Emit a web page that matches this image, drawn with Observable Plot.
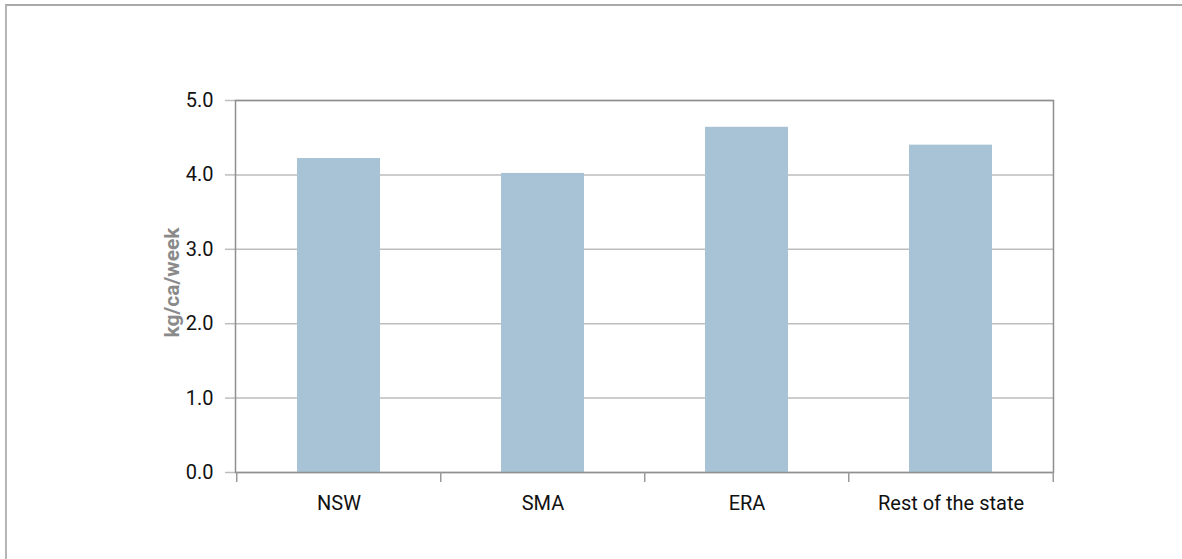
<!DOCTYPE html>
<html>
<head>
<meta charset="utf-8">
<script src="https://cdn.jsdelivr.net/npm/d3@7"></script>
<script src="https://cdn.jsdelivr.net/npm/@observablehq/plot@0.6"></script>
<style>
  html, body { margin: 0; padding: 0; background: #fff; overflow: hidden; width: 1182px; height: 559px; }
  #frame { position: absolute; left: 5px; top: 4px; width: 1300px; height: 700px;
           border-top: 2px solid #a9a9a9; border-left: 2px solid #b5b5b5; }
  #chart { position: absolute; left: 0; top: 0; }
</style>
</head>
<body>
<div id="frame"></div>
<div id="chart"></div>
<script>
const categories = ["NSW", "SMA", "ERA", "Rest of the state"];
const values = [4.22, 4.02, 4.64, 4.40];
const yTicks = [0, 1, 2, 3, 4, 5];
const yLabel = "kg/ca/week";

const data = categories.map((c, i) => ({category: c, value: values[i]}));

const W = 1182, H = 559, mL = 235, mR = 129, mT = 100, mB = 87;
const step = (W - mL - mR) / categories.length;
const font = "Roboto, 'Liberation Sans', sans-serif";

const chart = Plot.plot({
  width: W, height: H,
  marginLeft: mL, marginRight: mR, marginTop: mT, marginBottom: mB,
  style: {fontFamily: font, fontSize: "20px", color: "#111", background: "transparent", overflow: "visible"},
  x: {domain: categories, paddingInner: 0.594, paddingOuter: 0.297, label: null},
  y: {domain: [0, 5], label: null},
  marks: [
    Plot.axisY({ticks: yTicks, tickSize: 10, tickPadding: 12, tickFormat: d3.format(".1f"),
      stroke: "#bdbdbd", strokeWidth: 1.5, fontSize: 20, label: null}),
    Plot.gridY(yTicks, {stroke: "#bdbdbd", strokeOpacity: 1, strokeWidth: 1.5}),
    Plot.barY(data, {x: "category", y: "value", fill: "#a7c3d5"}),
    Plot.frame({stroke: "#8f8f8f", strokeWidth: 1.5}),
    Plot.axisX({ticks: categories, tickSize: 10, tickFormat: () => "", dx: -step / 2,
      stroke: "#9a9a9a", strokeWidth: 1.5, label: null}),
    Plot.axisX({ticks: categories.slice(-1), tickSize: 10, tickFormat: () => "", dx: step / 2,
      stroke: "#9a9a9a", strokeWidth: 1.5, label: null}),
    Plot.axisX({ticks: categories, tickSize: 0, tickPadding: 23, fontSize: 20, label: null}),
    Plot.text([yLabel], {frameAnchor: "left", dx: -63, dy: -4, rotate: -90, text: d => d,
      fill: "#8a8a8a", fontWeight: "bold", fontSize: 21, textAnchor: "middle", lineAnchor: "middle"})
  ]
});
document.getElementById("chart").appendChild(chart);
</script>
</body>
</html>
